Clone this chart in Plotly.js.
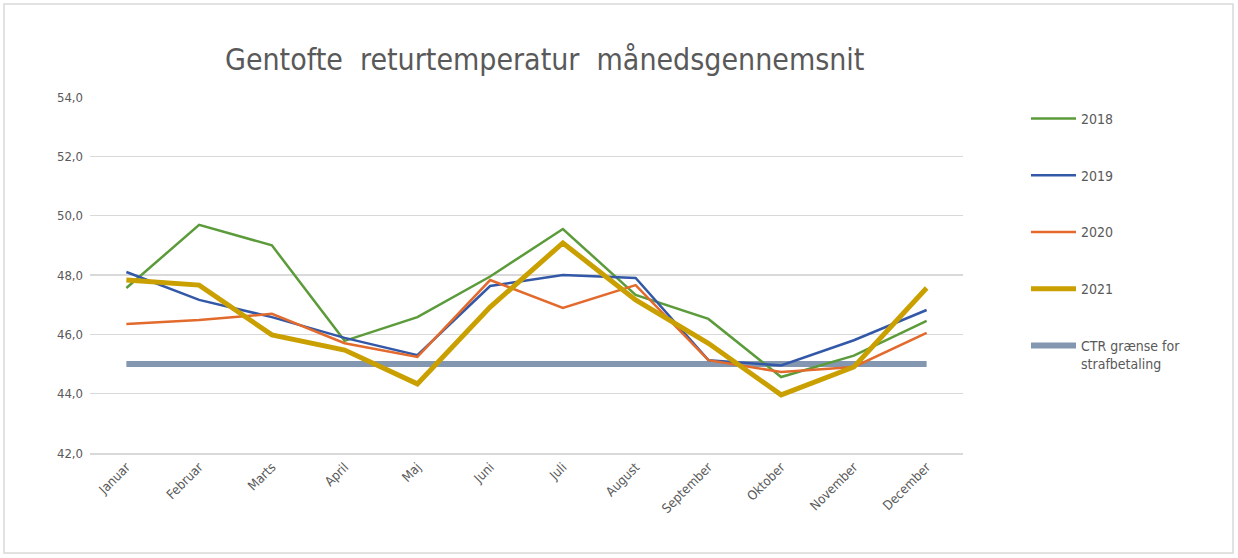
<!DOCTYPE html>
<html>
<head>
<meta charset="utf-8">
<script src="https://cdn.plot.ly/plotly-3.0.1.min.js"></script>
<style>
html,body{margin:0;padding:0;background:#fff;}
#chart{width:1238px;height:558px;}
</style>
</head>
<body>
<div id="chart"></div>
<script>
const months = ["Januar","Februar","Marts","April","Maj","Juni","Juli","August","September","Oktober","November","December"];
const y2018 = [47.56, 49.69, 49.0, 45.78, 46.58, 47.95, 49.55, 47.33, 46.52, 44.56, 45.28, 46.45];
const y2019 = [48.1, 47.16, 46.58, 45.88, 45.3, 47.63, 48.0, 47.9, 45.13, 44.95, 45.8, 46.82];
const y2020 = [46.35, 46.48, 46.69, 45.7, 45.24, 47.83, 46.89, 47.66, 45.13, 44.73, 44.9, 46.05];
const y2021 = [47.83, 47.66, 45.98, 45.47, 44.33, 46.92, 49.08, 47.16, 45.7, 43.96, 44.9, 47.56];
const ctr = [45, 45, 45, 45, 45, 45, 45, 45, 45, 45, 45, 45];
const seriesNames = ["2018","2019","2020","2021","CTR grænse for<br>strafbetaling"];
const yTicks = [42, 44, 46, 48, 50, 52, 54];

const font = "DejaVu Sans Condensed, Open Sans, sans-serif";
const W = 1238, H = 558, L = 90, R = 275, T = 97, B = 105;
const pw = W - L - R, ph = H - T - B;

const mk = (y, name, color, width, g, rank) => ({
  x: months, y: y, name: name, type: 'scatter', mode: 'lines',
  line: {color: color, width: width}, legendgroup: g, legendrank: rank, hoverinfo: 'y'
});

const data = [
  mk(ctr, seriesNames[4], '#8497B0', 6, 'e', 1005),
  mk(y2018, seriesNames[0], '#5B9B3A', 2.5, 'a', 1001),
  mk(y2019, seriesNames[1], '#3358A8', 2.5, 'b', 1002),
  mk(y2020, seriesNames[2], '#E26A2C', 2.5, 'c', 1003),
  mk(y2021, seriesNames[3], '#C9A000', 5, 'd', 1004)
];

const layout = {
  width: W, height: H,
  margin: {l: L, r: R, t: T, b: B},
  paper_bgcolor: '#fff', plot_bgcolor: '#fff',
  separators: ', ',
  showlegend: true,
  title: {text: 'Gentofte  returtemperatur  månedsgennemsnit', x: 0.44, xanchor: 'center', y: 0.893, yanchor: 'middle',
          font: {family: font, size: 30, color: '#595959'}},
  xaxis: {
    type: 'category', range: [-0.5, 11.5], tickangle: -45,
    showgrid: false, zeroline: false, showline: true, linecolor: '#D9D9D9', linewidth: 1.5, ticks: '',
    tickfont: {family: font, size: 13, color: '#595959'},
    fixedrange: true
  },
  yaxis: {
    range: [42, 54], tickvals: yTicks, tickformat: '.1f',
    showgrid: true, gridcolor: '#D9D9D9', gridwidth: 1.5,
    zeroline: false, showline: false, ticks: '',
    tickfont: {family: font, size: 13, color: '#595959'},
    ticklabelstandoff: 6,
    fixedrange: true
  },
  legend: {
    x: (1026 - L) / pw, xanchor: 'left', y: 1 - (103 - T) / ph, yanchor: 'top',
    traceorder: 'grouped', tracegroupgap: 35.5, valign: 'top',
    font: {family: font, size: 14, color: '#595959'},
    itemwidth: 45, bgcolor: 'rgba(0,0,0,0)'
  },
  shapes: [{
    type: 'rect', xref: 'paper', yref: 'paper',
    x0: (4 - L) / pw, x1: (W - 5 - L) / pw,
    y0: -(H - 5 - T - ph) / ph, y1: 1 + (T - 4) / ph,
    line: {color: '#D9D9D9', width: 1.5}, fillcolor: 'rgba(0,0,0,0)', layer: 'below'
  }]
};

Plotly.newPlot('chart', data, layout, {displayModeBar: false, staticPlot: true});
</script>
</body>
</html>
